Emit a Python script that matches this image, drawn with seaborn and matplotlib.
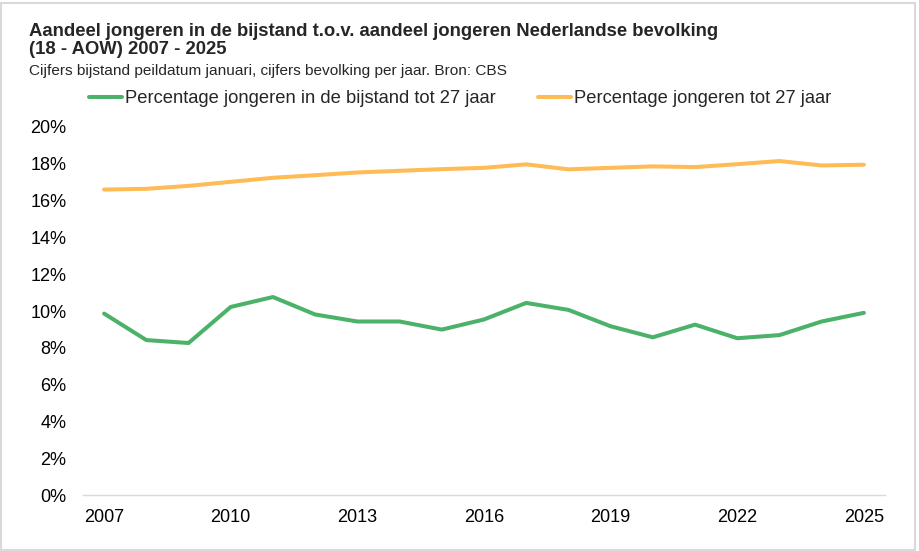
import matplotlib
matplotlib.use("Agg")
import matplotlib.pyplot as plt
import seaborn as sns
import pandas as pd
from matplotlib.patches import Rectangle
from matplotlib.ticker import FuncFormatter

years = list(range(2007, 2026))
bijstand = [9.86, 8.42, 8.26, 10.22, 10.76, 9.81, 9.43, 9.43, 8.99, 9.54,
            10.44, 10.06, 9.17, 8.57, 9.26, 8.52, 8.69, 9.43, 9.90]
bevolking = [16.60, 16.64, 16.80, 17.02, 17.24, 17.38, 17.53, 17.62, 17.71, 17.78,
             17.97, 17.70, 17.78, 17.86, 17.82, 17.98, 18.15, 17.91, 17.95]
series_names = ["Percentage jongeren in de bijstand tot 27 jaar",
                "Percentage jongeren tot 27 jaar"]
colors = ["#4CB26A", "#FFBB55"]
xticks = [2007, 2010, 2013, 2016, 2019, 2022, 2025]

df = pd.concat([
    pd.DataFrame({"jaar": years, "waarde": bijstand, "reeks": series_names[0]}),
    pd.DataFrame({"jaar": years, "waarde": bevolking, "reeks": series_names[1]}),
])

sns.set_theme(style="white")
plt.rcParams['font.family'] = ['Liberation Sans', 'DejaVu Sans']

fig = plt.figure(figsize=(9.2, 5.51), dpi=100)
ax = fig.add_axes([83/920, 56/551, 802/920, 368/551])

sns.lineplot(data=df, x="jaar", y="waarde", hue="reeks", palette=colors,
             hue_order=series_names, linewidth=2.9, ax=ax, legend=True)

ax.set_xlim(2006.5, 2025.5)
ax.set_ylim(0, 20)
ax.set_yticks(range(0, 21, 2))
ax.yaxis.set_major_formatter(FuncFormatter(lambda v, p: f"{int(v)}%"))
ax.set_xticks(xticks)
ax.set_xlabel("")
ax.set_ylabel("")
ax.tick_params(axis="y", length=0, pad=12, labelsize=13, labelcolor="#000000")
ax.tick_params(axis="x", length=0, pad=10, labelsize=13, labelcolor="#000000")
for s in ["top", "right", "left"]:
    ax.spines[s].set_visible(False)
ax.spines["bottom"].set_color("#D9D9D9")
ax.spines["bottom"].set_linewidth(1.0)
ax.grid(False)

handles, labels = ax.get_legend_handles_labels()
ax.legend(handles, labels, loc="center left", bbox_to_anchor=(89/920, 1 - 99/551),
          bbox_transform=fig.transFigure, ncol=2, frameon=False, fontsize=13.25,
          handlelength=1.8, handletextpad=0.16, columnspacing=2.3, borderaxespad=0,
          borderpad=0)

fig.text(29/920, 1 - 31/551, "Aandeel jongeren in de bijstand t.o.v. aandeel jongeren Nederlandse bevolking",
         fontsize=13.3, fontweight="bold", va="center", ha="left")
fig.text(29/920, 1 - 50/551, "(18 - AOW) 2007 - 2025",
         fontsize=13.3, fontweight="bold", va="center", ha="left")
fig.text(29/920, 1 - 71/551, "Cijfers bijstand peildatum januari, cijfers bevolking per jaar. Bron: CBS",
         fontsize=11.1, va="center", ha="left")

fig.patches.append(Rectangle((1.5/920, 1.5/551), 914/920, 547/551, transform=fig.transFigure,
                             fill=False, edgecolor="#D9D9D9", linewidth=1.5))

fig.savefig("out.png", dpi=100)
